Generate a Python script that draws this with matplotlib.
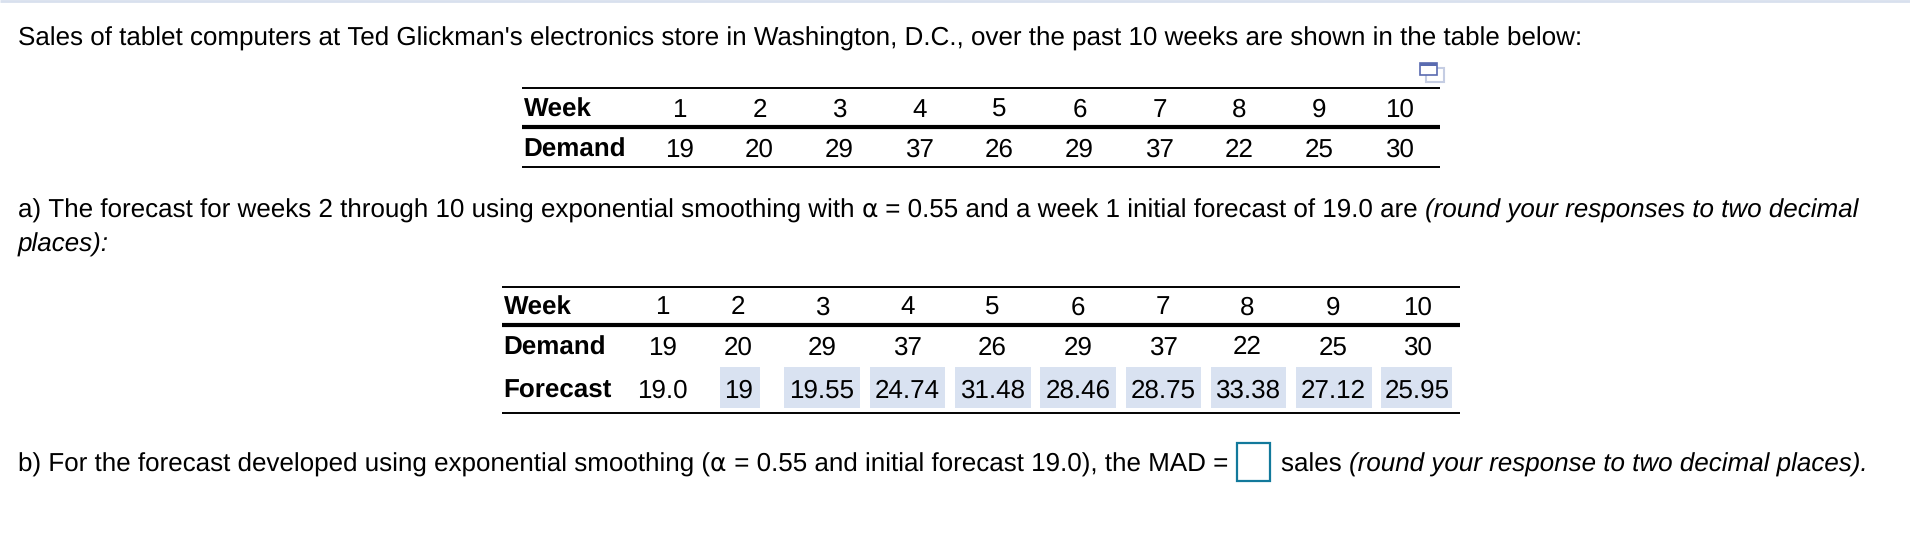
import matplotlib
matplotlib.use('Agg')
import matplotlib.pyplot as plt
from matplotlib.patches import Rectangle

weeks = ['1', '2', '3', '4', '5', '6', '7', '8', '9', '10']
demand = ['19', '20', '29', '37', '26', '29', '37', '22', '25', '30']
forecast = ['19.0', '19', '19.55', '24.74', '31.48', '28.46', '28.75', '33.38', '27.12', '25.95']

# column centres in pixels of the two tables
cols_top = [679.5, 759.5, 839.5, 919.5, 999.5, 1079.5, 1159.5, 1239.5, 1319.5, 1399.5]
cols_low = [662.5, 738, 822, 907.5, 992.5, 1078, 1163, 1247.5, 1333.5, 1417.5]
# filled answer cells, (left, right)
cells = [(720, 760), (784, 860), (870, 945), (955, 1031), (1040, 1116),
         (1126, 1201), (1211, 1286), (1296, 1372), (1381, 1452)]

FS = 18.7
plt.rcParams['font.family'] = ['Liberation Sans', 'DejaVu Sans']
plt.rcParams['font.size'] = FS
plt.rcParams['text.hinting'] = 'no_hinting'
plt.rcParams['text.hinting_factor'] = 1

fig = plt.figure(figsize=(19.10, 5.54), dpi=100)
ax = fig.add_axes([0, 0, 1, 1])
ax.set_xlim(0, 1910)
ax.set_ylim(554, 0)
ax.axis('off')


def txt(x, y, s, **kw):
    return ax.text(x, y, s, color='black', va='baseline', **kw)


def runs(x, y, parts):
    # puts pieces of text one after the other on a line
    r = fig.canvas.get_renderer()
    for s, style in parts:
        if s == '\u03b1':
            t = txt(x, y, s, family='DejaVu Sans', fontsize=FS - 0.9)
        else:
            t = txt(x, y, s, style=style)
        x = t.get_window_extent(r).x1 + 0


ax.hlines(0.5, 0, 1910, color='#d8e0ee', lw=2)

txt(18, 46, "Sales of tablet computers at Ted Glickman's electronics store in Washington, D.C., "
            "over the past 10 weeks are shown in the table below:")

# little copy icon
ax.add_patch(Rectangle((1426, 68), 18, 14, fill=False, ec='#c5cde3', lw=1.5))
ax.add_patch(Rectangle((1420, 63), 17, 12, fc='white', ec='#5a6bb0', lw=1.2))
ax.add_patch(Rectangle((1420, 63), 17, 3, fc='#5a6bb0', ec='none'))

# first table
ax.hlines([88, 167], 522, 1440, color='black', lw=1.4)
ax.hlines(127, 522, 1440, color='black', lw=3)
txt(523.5, 117, 'Week', weight='bold')
txt(523.5, 157, 'Demand', weight='bold')
for c, w, d in zip(cols_top, weeks, demand):
    txt(c, 117, w, ha='center')
    txt(c, 157, d, ha='center')

runs(18, 218, [('a) The forecast for weeks 2 through 10 using exponential smoothing with ', 'normal'),
               ('\u03b1', 'normal'),
               (' = 0.55 and a week 1 initial forecast of 19.0 are ', 'normal'),
               ('(round your responses to two decimal', 'italic')])
txt(18, 252, 'places):', style='italic')

# second table
for left, right in cells:
    ax.add_patch(Rectangle((left, 367), right - left, 41, fc='#d9e2f1', ec='none'))
ax.hlines([287, 413], 502, 1460, color='black', lw=1.4)
ax.hlines(325, 502, 1460, color='black', lw=3)
txt(503.5, 314.5, 'Week', weight='bold')
txt(503.5, 354.5, 'Demand', weight='bold')
txt(503.5, 397.5, 'Forecast', weight='bold')
for c, w, d, f in zip(cols_low, weeks, demand, forecast):
    txt(c, 314.5, w, ha='center')
    txt(c, 354.5, d, ha='center')
    txt(c, 397.5, f, ha='center')

runs(18, 471.5, [('b) For the forecast developed using exponential smoothing (', 'normal'),
                 ('\u03b1', 'normal'),
                 (' = 0.55 and initial forecast 19.0), the MAD =', 'normal')])
ax.add_patch(Rectangle((1237, 443), 33, 38, fill=False, ec='#12799b', lw=1.6))
runs(1281, 471.5, [('sales ', 'normal'), ('(round your response to two decimal places).', 'italic')])

fig.savefig('out.png', dpi=100)
